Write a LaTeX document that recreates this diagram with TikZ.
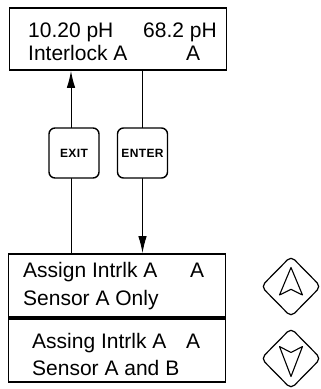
\documentclass[tikz,border=0pt]{standalone}
\usepackage{fontspec}
\setmainfont{Liberation Sans}
\usepackage{tikz}
\usetikzlibrary{shapes.geometric, arrows.meta}

\newcommand{\ks}{\kern0.4pt}

\begin{document}
\begin{tikzpicture}[
    x=1pt, y=-1pt,
    >={Latex[length=17pt,width=8.5pt]},
    screen/.style={draw, line width=1.8pt, minimum width=217pt, minimum height=62pt, inner sep=0pt},
    line/.style={anchor=base west, inner sep=0pt, font=\fontsize{21}{21}\selectfont},
    softkey/.style={draw, fill=white, line width=1.4pt, rounded corners=6pt, minimum width=50pt, minimum height=50pt, inner sep=0pt, font=\bfseries\fontsize{12}{12}\selectfont},
    navkey/.style={draw, diamond, line width=1.2pt, rounded corners=5pt, minimum width=60pt, minimum height=61pt, inner sep=0pt}
]
    \useasboundingbox (0,0) rectangle (321,389);

    % Node placement
    \node (panel) [screen] at (118,39) {};
    \node (assign) [screen, minimum height=63pt] at (117,285.5) {};
    \node (assing) [screen, minimum height=63pt] at (117,350.5) {};

    \node (ph1) [line] at (28,37) {10.20 pH};
    \node (ph2) [line] at (143,37) {68.2 pH};
    \node (ilk) [line] at (28,60) {Interlock A};
    \node (ilkch) [line] at (186,60) {A};

    \node (asg) [line] at (23,277) {Assign Intrlk A};
    \node (asgch) [line] at (190,277) {A};
    \node (only) [line] at (23,305) {Sensor A Only};

    \node (asn) [line] at (32,348) {Assing Intrlk A};
    \node (asnch) [line] at (186,348) {A};
    \node (both) [line] at (32,375) {Sensor A and B};

    \coordinate (exitline) at (71,0);
    \coordinate (enterline) at (142.5,0);

    % Arrows
    \draw[->, line width=1pt] (assign.north -| exitline) -- (panel.south -| exitline);
    \draw[->, line width=1pt] (panel.south -| enterline) -- (assign.north -| enterline);

    % Keys
    \node (exit) [softkey] at (74,153) {E\ks X\ks I\ks T};
    \node (enter) [softkey] at (142.5,153) {E\ks N\ks T\ks E\ks R};

    \node (up) [navkey] at (291,286.5) {};
    \node (down) [navkey] at (291,358.5) {};
    \draw[line width=1.1pt, line join=round, shift={(up.center)}] (0,-19) -- (-11.5,8.5) -- (0,2.8) -- (11.5,8.5) -- cycle;
    \draw[line width=1.1pt, line join=round, shift={(down.center)}] (0,18) -- (-11.5,-12) -- (0,-6) -- (11.5,-12) -- cycle;

\end{tikzpicture}
\end{document}
